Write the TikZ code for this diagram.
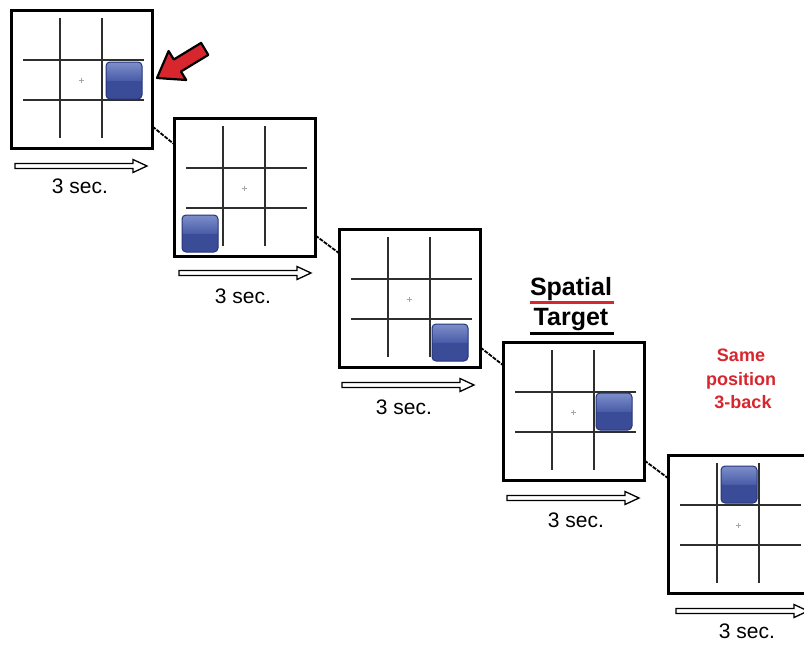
\documentclass[tikz,border=0pt]{standalone}
\usepackage{fontspec}
\setmainfont{Liberation Sans}
\definecolor{sqdark}{HTML}{3A4C98}
\definecolor{sqlight}{HTML}{7F8FCB}
\definecolor{sqmid}{HTML}{4A5DA8}
\definecolor{sqedge}{HTML}{25357A}
\definecolor{hlred}{HTML}{D7262E}
\definecolor{gridc}{HTML}{2E2E2E}
\tikzset{
  panel/.style={draw=black, line width=3pt, fill=white, minimum width=141pt, minimum height=138pt, inner sep=0pt, outer sep=0pt, anchor=north west},
  gridline/.style={draw=gridc, line width=1.3pt},
  crossline/.style={draw=black!35, line width=0.4pt},
  link/.style={draw=black, line width=1.8pt, dash pattern=on 4pt off 1.2pt},
  seclabel/.style={anchor=base, font=\fontsize{21}{25}\selectfont},
  pics/grid/.style={code={
    \draw[gridline] (50,9) -- (50,129) (92,9) -- (92,129) (13,51) -- (134,51) (13,91) -- (134,91);
    \draw[crossline] (68.5,71) -- (73.5,71) (71,68.5) -- (71,73.5);
  }},
  pics/bsq/.style={code={
    \fill[sqdark, rounded corners=4pt] (0,0) rectangle (36,37);
    \begin{scope}
      \clip[rounded corners=4pt] (0,0) rectangle (36,37);
      \shade[top color=sqlight, bottom color=sqmid] (0,0) rectangle (36,18);
    \end{scope}
    \draw[sqedge, line width=1pt, rounded corners=4pt] (0,0) rectangle (36,37);
  }},
  pics/tarrow/.style={code={
    \draw[black, line width=1.3pt, fill=white, line join=miter]
      (0,-2.5) -- (118,-2.5) -- (118,-6.5) -- (132,0) -- (118,6.5) -- (118,2.5) -- (0,2.5) -- cycle;
  }}
}
\begin{document}
\begin{tikzpicture}[x=1pt, y=-1pt]
\useasboundingbox (0,0) rectangle (804,646);
\fill[white] (0,0) rectangle (804,646);

% panels
\node[panel] (p1) at (11.5,10.5) {};
\node[panel] (p2) at (174.5,118.5) {};
\node[panel] (p3) at (339.5,229.5) {};
\node[panel] (p4) at (503.5,342.5) {};
\node[panel] (p5) at (668.5,455.5) {};

% connectors
\draw[link] ([yshift=-47pt]p1.east) -- ([yshift=43pt]p2.west);
\draw[link] ([yshift=-48pt]p2.east) -- ([yshift=45pt]p3.west);
\draw[link] ([yshift=-49pt]p3.east) -- ([yshift=46pt]p4.west);
\draw[link] ([yshift=-49pt]p4.east) -- ([yshift=46pt]p5.west);

% grids and squares
\pic at (10,9) {grid};
\pic at (173,117) {grid};
\pic at (338,228) {grid};
\pic at (502,341) {grid};
\pic at (667,454) {grid};

\pic at (106,62) {bsq};
\pic at (182,215) {bsq};
\pic at (432,324) {bsq};
\pic at (596,393) {bsq};
\pic at (721,466) {bsq};

% timing arrows
\pic at (15,166) {tarrow};
\pic at (179,273) {tarrow};
\pic at (342,385) {tarrow};
\pic at (507,498) {tarrow};
\pic at (676,611) {tarrow};

\node[seclabel] (t1) at (80,193) {3 sec.};
\node[seclabel] (t2) at (243,303) {3 sec.};
\node[seclabel] (t3) at (404,414) {3 sec.};
\node[seclabel] (t4) at (576,527) {3 sec.};
\node[seclabel] (t5) at (747,638) {3 sec.};

% red pointer arrow
\draw[black, line width=2.2pt, fill=hlred, line join=round]
  (157,78) -- (186.2,80.0) -- (181.0,71.5) -- (208.3,54.9) -- (201.1,42.9)
  -- (173.8,59.5) -- (168.6,51.0) -- cycle;

% Spatial Target label
\node[anchor=base, font=\fontsize{25}{30}\selectfont\bfseries] (sp) at (571,295) {Spatial};
\node[anchor=base, font=\fontsize{25}{30}\selectfont\bfseries] (tg) at (571,325) {Target};
\draw[hlred, line width=3pt] (530,302) -- (614,302);
\draw[black, line width=3pt] (530,333) -- (614,333);

% Same position 3-back
\node[anchor=base, text=hlred, font=\fontsize{18}{22}\selectfont\bfseries] (s1) at (741,361) {Same};
\node[anchor=base, text=hlred, font=\fontsize{18}{22}\selectfont\bfseries] (s2) at (741,385) {position};
\node[anchor=base, text=hlred, font=\fontsize{18}{22}\selectfont\bfseries] (s3) at (743,408) {3-back};
\end{tikzpicture}
\end{document}
